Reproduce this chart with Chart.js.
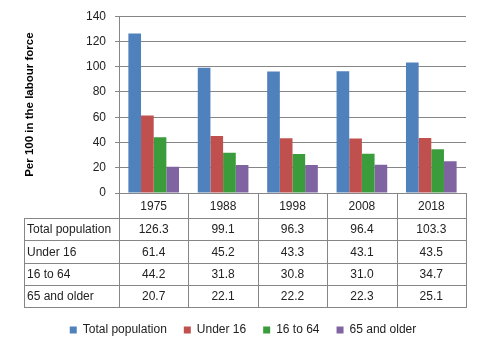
<!DOCTYPE html>
<html>
<head>
<meta charset="utf-8">
<script src="https://cdn.jsdelivr.net/npm/chart.js@4.4.1/dist/chart.umd.min.js"></script>
<style>
  html, body { margin: 0; padding: 0; background: #fff; }
  #wrap { width: 482px; height: 346px; }
</style>
</head>
<body>
<div id="wrap"><canvas id="c" width="482" height="346"></canvas></div>
<script>
// data
const years = ['1975', '1988', '1998', '2008', '2018'];
const seriesNames = ['Total population', 'Under 16', '16 to 64', '65 and older'];
const totalPop = [126.3, 99.1, 96.3, 96.4, 103.3];
const under16 = [61.4, 45.2, 43.3, 43.1, 43.5];
const age16to64 = [44.2, 31.8, 30.8, 31.0, 34.7];
const age65plus = [20.7, 22.1, 22.2, 22.3, 25.1];
const yTicks = [0, 20, 40, 60, 80, 100, 120, 140];

const colors = ['#4F81BD', '#C0504D', '#3B9C3B', '#8064A2'];
const lineColor = '#868686';
const fontFam = '"Liberation Sans", Arial, sans-serif';

// table under the plot (excel style data table)
const dataTable = {
    id: 'dataTable',
    afterDraw(chart) {
        const ctx = chart.ctx;
        const x = chart.scales.x;
        const area = chart.chartArea;
        const tableLeft = 24;
        const headH = 25, rowH = 22.25;
        const colW = (area.right - area.left) / years.length;
        const top = Math.round(area.bottom);
        const rows = chart.data.datasets;
        const bottom = Math.round(top + headH + rowH * rows.length);

        ctx.save();
        ctx.strokeStyle = lineColor;
        ctx.lineWidth = 1;
        ctx.beginPath();
        // vertical lines
        for (let i = 0; i <= years.length; i++) {
            const vx = Math.round(area.left + i * colW) + 0.5;
            ctx.moveTo(vx, top);
            ctx.lineTo(vx, bottom);
        }
        ctx.moveTo(tableLeft + 0.5, top + headH);
        ctx.lineTo(tableLeft + 0.5, bottom);
        // horizontal lines
        for (let r = 0; r <= rows.length; r++) {
            const hy = Math.round(top + headH + r * rowH) + 0.5;
            ctx.moveTo(tableLeft, hy);
            ctx.lineTo(Math.round(area.right) + 1, hy);
        }
        ctx.stroke();

        ctx.fillStyle = '#222';
        ctx.font = '12px ' + fontFam;
        ctx.textBaseline = 'middle';
        ctx.textAlign = 'center';
        years.forEach((y, i) => {
            ctx.fillText(y, x.getPixelForValue(i), top + headH / 2 + 1);
        });
        rows.forEach((ds, r) => {
            const cy = top + headH + r * rowH + rowH / 2 + 1;
            ctx.textAlign = 'left';
            ctx.fillText(ds.label, tableLeft + 3, cy);
            ctx.textAlign = 'center';
            ds.data.forEach((v, i) => {
                ctx.fillText(v.toFixed(1), x.getPixelForValue(i), cy);
            });
        });
        ctx.restore();
    }
};

const allData = [totalPop, under16, age16to64, age65plus];

new Chart(document.getElementById('c').getContext('2d'), {
    type: 'bar',
    data: {
        labels: years,
        datasets: seriesNames.map((n, i) => ({
            label: n,
            data: allData[i],
            backgroundColor: colors[i],
            borderWidth: 0,
            barPercentage: 1,
            categoryPercentage: 0.73
        }))
    },
    options: {
        responsive: false,
        animation: false,
        layout: { padding: { left: 20, right: 16, top: 15, bottom: 0 } },
        plugins: {
            tooltip: { enabled: false },
            legend: {
                position: 'bottom',
                labels: {
                    boxWidth: 7,
                    boxHeight: 7,
                    padding: 17,
                    color: '#222',
                    font: { family: fontFam, size: 12 }
                }
            }
        },
        scales: {
            x: {
                grid: { display: false },
                border: { display: false },
                ticks: { display: false },
                afterFit(s) { s.height = 114; }
            },
            y: {
                min: 0,
                max: 140,
                afterBuildTicks(s) { s.ticks = yTicks.map(v => ({ value: v })); },
                afterFit(s) { s.width = 99; },
                grid: { color: lineColor, tickLength: 4 },
                border: { color: lineColor },
                ticks: {
                    padding: 9,
                    color: '#222',
                    font: { family: fontFam, size: 12 }
                },
                title: {
                    display: true,
                    text: 'Per 100 in the labour force',
                    color: '#000',
                    padding: { top: 3, bottom: 0 },
                    font: { family: fontFam, size: 11.5, weight: 'bold' }
                }
            }
        }
    },
    plugins: [dataTable]
});
</script>
</body>
</html>
